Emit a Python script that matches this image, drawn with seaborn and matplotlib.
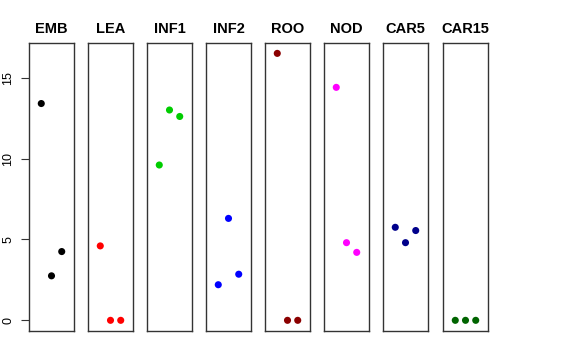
import matplotlib
matplotlib.use("Agg")
import matplotlib.pyplot as plt
import seaborn as sns
import pandas as pd

sns.set_style("white")
plt.rcParams['font.family'] = ['Liberation Sans', 'DejaVu Sans']
plt.rcParams['text.color'] = 'black'
plt.rcParams['ytick.color'] = 'black'

tissues = ["EMB", "LEA", "INF1", "INF2", "ROO", "NOD", "CAR5", "CAR15"]
emb = [13.4, 2.75, 4.25]
lea = [4.6, 0.0, 0.0]
inf1 = [9.6, 13.0, 12.6]
inf2 = [2.2, 6.3, 2.85]
roo = [16.5, 0.0, 0.0]
nod = [14.4, 4.8, 4.2]
car5 = [5.75, 4.8, 5.55]
car15 = [0.0, 0.0, 0.0]
values = [emb, lea, inf1, inf2, roo, nod, car5, car15]
colors = ["#000000", "#FF0000", "#00CD00", "#0000FF", "#8B0000", "#FF00FF", "#00008B", "#006400"]
replicate = [1, 2, 3]
yticks = [0, 5, 10, 15]

W, H = 576, 360
fig = plt.figure(figsize=(W / 100, H / 100), dpi=100)
lefts = [29, 88, 147, 206, 265, 324, 383, 443]
pw = 45
top, bottom = 42.7, 331

ymin, ymax = 0.0, 16.5
pad = 0.04 * (ymax - ymin)

for i, (name, vals, col) in enumerate(zip(tissues, values, colors)):
    ax = fig.add_axes([lefts[i] / W, 1 - bottom / H, pw / W, (bottom - top) / H])
    df = pd.DataFrame({"rep": replicate, "val": vals})
    sns.scatterplot(data=df, x="rep", y="val", ax=ax, color=col, s=26,
                    edgecolor="none", linewidth=0, legend=False)
    ax.set_xlim(-0.2, 4.2)
    ax.set_ylim(ymin - pad, ymax + pad)
    ax.set_xticks([])
    ax.set_xlabel("")
    ax.set_ylabel("")
    ax.set_title(name, fontsize=10.5, fontweight="bold", pad=7, color="black")
    for s in ax.spines.values():
        s.set_visible(True)
        s.set_color("#333333")
        s.set_linewidth(1.0)
    if i == 0:
        ax.set_yticks(yticks)
        ax.set_yticklabels([str(t) for t in yticks], rotation=90, va="center", fontsize=9, color="black")
        ax.tick_params(axis="y", left=True, length=5.5, width=0.8, color="#333333", pad=5)
    else:
        ax.set_yticks([])

fig.savefig("out.png", dpi=100)
